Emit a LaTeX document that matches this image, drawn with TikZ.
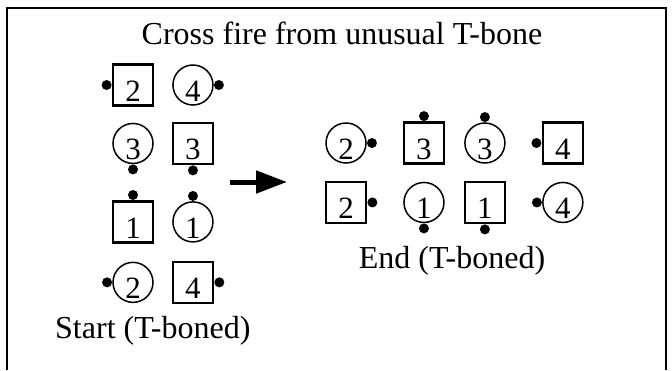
\documentclass[tikz,border=0pt]{standalone}
\usepackage{fontspec}
\setmainfont{Liberation Serif}
\usetikzlibrary{positioning,arrows.meta}

\tikzset{
  car/.style={draw, inner sep=0pt, font=\fontsize{31}{31}\selectfont, text height=33pt, text depth=0pt},
  sq/.style={car, rectangle, line width=2.4pt, minimum width=40pt, minimum height=41pt},
  rd/.style={car, circle, line width=1.5pt, minimum size=40pt},
  gun/.style={circle, fill, inner sep=0pt, minimum size=10pt},
  caption/.style={font=\fontsize{32}{32}\selectfont, inner sep=0pt},
}

\begin{document}
\begin{tikzpicture}[x=1pt, y=1pt, node distance=0pt]
\useasboundingbox (0,0) rectangle (672,-370);
\draw[line width=2pt] (7,-370) -- (7,-8) -- (666,-8) -- (666,-370);

\node[caption, anchor=base] (title) at (342,-44) {Cross fire from unusual T-bone};

% start
\node[sq] (st-s2) at (133,-85) {2};
\node[rd, right=18pt of st-s2] (st-c4) {4};
\node[rd, below=16pt of st-s2] (st-c3) {3};
\node[sq, right=18pt of st-c3] (st-s3) {3};
\node[sq, below=36pt of st-c3] (st-s1) {1};
\node[rd, right=18pt of st-s1] (st-c1) {1};
\node[rd, below=18pt of st-s1] (st-c2) {2};
\node[sq, right=18pt of st-c2] (st-s4) {4};

\node[gun, left=of st-s2] (st-g2) {};
\node[gun, right=of st-c4] (st-g4) {};
\node[gun, below=of st-c3] (st-g3) {};
\node[gun, below=of st-s3] (st-h3) {};
\node[gun, above=of st-s1] (st-g1) {};
\node[gun, above=of st-c1] (st-h1) {};
\node[gun, left=of st-c2] (st-h2) {};
\node[gun, right=of st-s4] (st-h4) {};

\node[caption, anchor=base west] (startlbl) at (55,-338) {Start (T-boned)};

% move
\coordinate (from) at (230,-182);
\coordinate (to) at (287,-182);
\draw[line width=5pt, -{Triangle[length=31pt,width=22pt]}] (from) -- (to);

% end
\node[rd] (en-c2) at (346,-143) {2};
\node[sq, right=36pt of en-c2] (en-s3) {3};
\node[rd, right=19pt of en-s3] (en-c3) {3};
\node[sq, right=36pt of en-c3] (en-s4) {4};
\node[sq, below=17pt of en-c2] (en-s2) {2};
\node[rd, below=17pt of en-s3] (en-c1) {1};
\node[sq, below=17pt of en-c3] (en-s1) {1};
\node[rd, below=17pt of en-s4] (en-c4) {4};

\node[gun, right=of en-c2] (en-g2) {};
\node[gun, above=of en-s3] (en-g3) {};
\node[gun, above=of en-c3] (en-h3) {};
\node[gun, left=of en-s4] (en-g4) {};
\node[gun, right=of en-s2] (en-h2) {};
\node[gun, below=of en-c1] (en-g1) {};
\node[gun, below=of en-s1] (en-h1) {};
\node[gun, left=of en-c4] (en-h4) {};

\node[caption, anchor=base] (endlbl) at (452,-268) {End (T-boned)};
\end{tikzpicture}
\end{document}
